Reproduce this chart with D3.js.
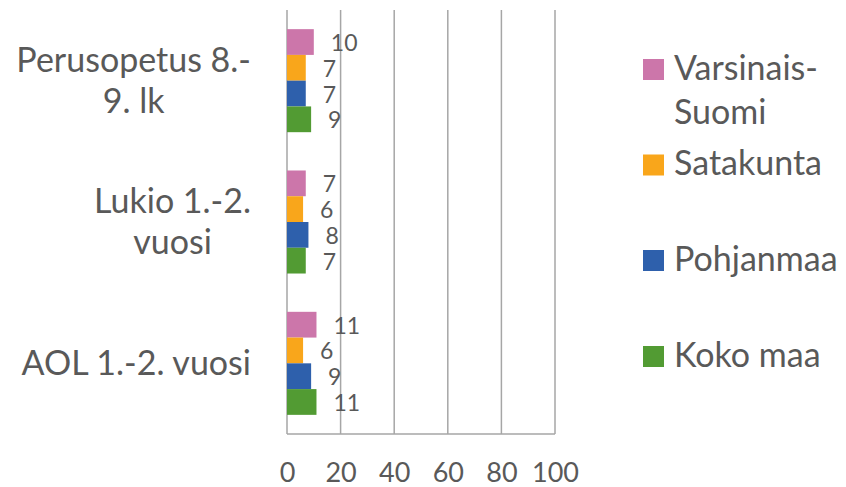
<!DOCTYPE html>
<html>
<head>
<meta charset="utf-8">
<script src="https://cdn.jsdelivr.net/npm/d3@7"></script>
<style>
  html, body { margin: 0; padding: 0; background: #fff; }
  svg { display: block; }
</style>
</head>
<body>
<svg id="chart" width="846" height="487"></svg>
<script>
// ---- data ----
const categories = ["Perusopetus 8.-9. lk", "Lukio 1.-2. vuosi", "AOL 1.-2. vuosi"];
const categoryLines = [["Perusopetus 8.-", "9. lk"], ["Lukio 1.-2.", "vuosi"], ["AOL 1.-2. vuosi"]];
const seriesNames = ["Varsinais-Suomi", "Satakunta", "Pohjanmaa", "Koko maa"];
const legendLines = [["Varsinais-", "Suomi"], ["Satakunta"], ["Pohjanmaa"], ["Koko maa"]];
const varsinaisSuomi = [10, 7, 11];
const satakunta = [7, 6, 6];
const pohjanmaa = [7, 8, 9];
const kokoMaa = [9, 7, 11];
const xTicks = [0, 20, 40, 60, 80, 100];
const colors = ["#CC76AA", "#F9A61B", "#2E60AC", "#529B33"];

const seriesValues = [varsinaisSuomi, satakunta, pohjanmaa, kokoMaa];

// ---- layout ----
const svg = d3.select("#chart");
const FONT = "Lato, 'Open Sans', sans-serif";
const TEXT = "#595959";
const GRID = "#A6A6A6";
const plot = { left: 287, right: 555, top: 10, bottom: 434 };

const x = d3.scaleLinear().domain([0, 100]).range([plot.left, plot.right]);
const y0 = d3.scaleBand().domain(categories).range([plot.top, plot.bottom])
  .paddingInner(0.271).paddingOuter(0.1355);
const y1 = d3.scaleBand().domain(seriesNames).range([0, y0.bandwidth()]);

// gridlines
svg.append("g").selectAll("line").data(xTicks).join("line")
  .attr("x1", d => x(d)).attr("x2", d => x(d))
  .attr("y1", plot.top).attr("y2", plot.bottom)
  .attr("stroke", GRID).attr("stroke-width", 1.5);

// bottom axis line
svg.append("line")
  .attr("x1", plot.left).attr("x2", plot.right)
  .attr("y1", plot.bottom).attr("y2", plot.bottom)
  .attr("stroke", GRID).attr("stroke-width", 1.5);

// x axis tick labels
const xAxis = d3.axisBottom(x).tickValues(xTicks).tickSize(0).tickPadding(0);
const gx = svg.append("g").attr("transform", `translate(0,${plot.bottom})`).call(xAxis);
gx.select(".domain").remove();
gx.selectAll("text")
  .attr("dy", null).attr("y", 48)
  .attr("font-family", FONT).attr("font-size", 27).attr("fill", TEXT);

// bars
const groups = svg.append("g").selectAll("g").data(categories).join("g")
  .attr("transform", d => `translate(0,${y0(d)})`);

groups.each(function(cat, ci) {
  const g = d3.select(this);
  const rows = seriesNames.map((s, si) => ({ s, si, v: seriesValues[si][ci] }));
  g.selectAll("rect").data(rows).join("rect")
    .attr("x", x(0))
    .attr("y", d => y1(d.s))
    .attr("width", d => x(d.v) - x(0))
    .attr("height", y1.bandwidth())
    .attr("fill", d => colors[d.si]);
  g.selectAll("text").data(rows).join("text")
    .attr("x", d => x(d.v) + 17)
    .attr("y", d => y1(d.s) + y1.bandwidth() / 2 + 9)
    .attr("font-family", FONT).attr("font-size", 23).attr("fill", TEXT)
    .text(d => d.v);
});

// category labels
const catG = svg.append("g");
categories.forEach((c, ci) => {
  const lines = categoryLines[ci];
  const cy = y0(c) + y0.bandwidth() / 2;
  const lh = 41;
  const t = catG.append("g");
  const texts = lines.map((ln, i) => t.append("text")
    .attr("y", cy + 11.5 + (i - (lines.length - 1) / 2) * lh)
    .attr("font-family", FONT).attr("font-size", 34).attr("fill", TEXT)
    .attr("text-anchor", "middle").text(ln));
  const maxW = d3.max(texts, s => s.node().getComputedTextLength());
  texts.forEach(s => s.attr("x", 251 - maxW / 2));
});

// legend
const legTop = [59, 154.5, 250, 346];
const legG = svg.append("g");
seriesNames.forEach((s, i) => {
  legG.append("rect")
    .attr("x", 643).attr("y", legTop[i]).attr("width", 21).attr("height", 21)
    .attr("fill", colors[i]);
  legendLines[i].forEach((ln, j) => {
    legG.append("text")
      .attr("x", 674).attr("y", legTop[i] + 20.5 + j * 44.7)
      .attr("font-family", FONT).attr("font-size", 34).attr("fill", TEXT)
      .text(ln);
  });
});
</script>
</body>
</html>
